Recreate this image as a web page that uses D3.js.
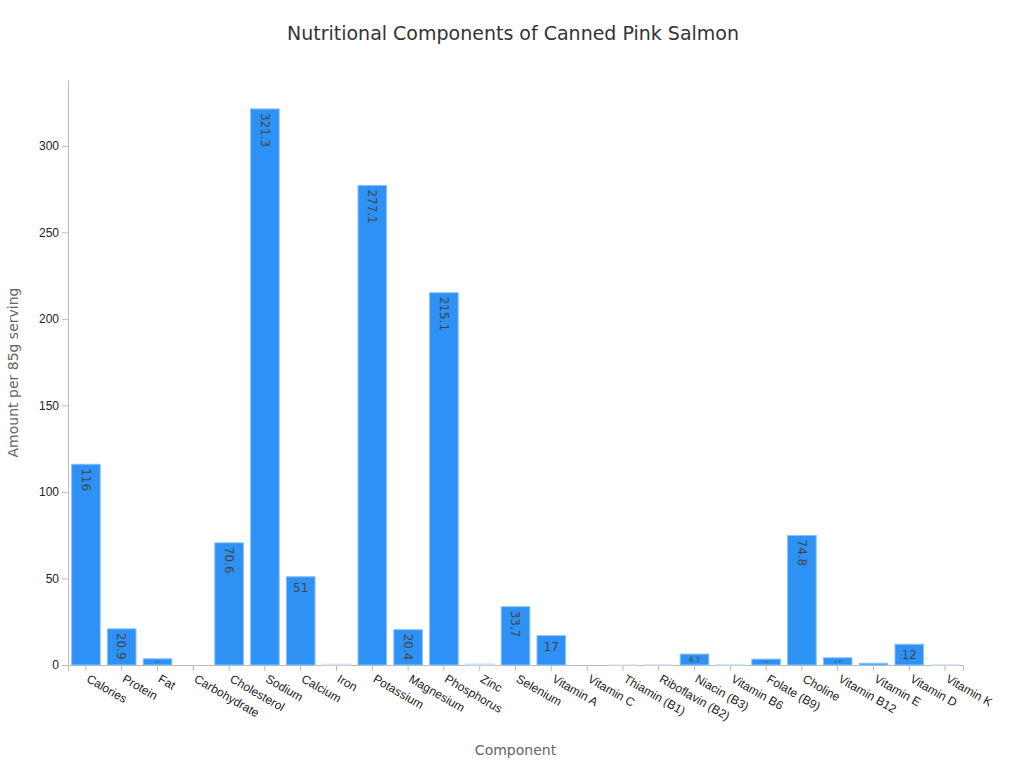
<!DOCTYPE html>
<html><head><meta charset="utf-8">
<script src="https://cdn.jsdelivr.net/npm/d3@7"></script>
<style>
body{margin:0;background:#fff;font-family:"DejaVu Sans",sans-serif}
.axis text{font-size:12px;fill:#222}
.axis path,.axis line{stroke:#bbb}
</style></head><body><div id="plot"></div>
<script>
const components = ["Calories","Protein","Fat","Carbohydrate","Cholesterol","Sodium","Calcium","Iron","Potassium","Magnesium","Phosphorus","Zinc","Selenium","Vitamin A","Vitamin C","Thiamin (B1)","Riboflavin (B2)","Niacin (B3)","Vitamin B6","Folate (B9)","Choline","Vitamin B12","Vitamin E","Vitamin D","Vitamin K"]
const amounts = [116,20.9,3.6,0,70.6,321.3,51,0.5,277.1,20.4,215.1,0.6,33.7,17,0,0.02,0.1,6.3,0.2,3.4,74.8,4.2,1.0,12,0.1]
const yTicks = [0,50,100,150,200,250,300]

const w = 1024, h = 768,
    margin = {top: 80, right: 61, bottom: 103, left: 68}

const svg = d3.select("#plot").append("svg").attr("width", w).attr("height", h)

const x = d3.scaleBand().domain(components)
    .range([margin.left, w - margin.right]).paddingInner(0.2).paddingOuter(0.1)
const y = d3.scaleLinear().domain([0, 338]).range([h - margin.bottom, margin.top])

svg.append("text").attr("x", w/2 + 1).attr("y", 40).attr("text-anchor", "middle")
  .style("font-size", "19px").style("fill", "#333").text("Nutritional Components of Canned Pink Salmon")

svg.append("g").attr("class", "axis")
  .attr("transform", `translate(0,${h - margin.bottom})`)
  .call(d3.axisBottom(x).tickSizeOuter(0).tickSize(6))
  .selectAll("text")
    .attr("transform", "rotate(30)").attr("text-anchor", "start")
    .attr("x", 8).attr("y", 10).attr("dy", "0.35em")

svg.append("g").attr("class", "axis")
  .attr("transform", `translate(${margin.left},0)`)
  .call(d3.axisLeft(y).tickValues(yTicks).tickSizeOuter(0))

svg.append("text").attr("x", x.range()[0] + (x.range()[1]-x.range()[0])/2).attr("y", 755)
  .attr("text-anchor", "middle").style("font-size", "14px").style("fill", "#666").text("Component")
svg.append("text").attr("transform", "rotate(-90)").attr("x", -(margin.top + (h - margin.bottom - margin.top)/2)).attr("y", 18)
  .attr("text-anchor", "middle").style("font-size", "14px").style("fill", "#666").text("Amount per 85g serving")

const data = components.map((c, i) => ({c, v: amounts[i]}))

svg.append("g").selectAll("rect").data(data).join("rect")
  .attr("x", d => x(d.c)).attr("width", x.bandwidth())
  .attr("y", d => y(d.v)).attr("height", d => y(0) - y(d.v))
  .attr("fill", "#2e91f5").attr("stroke", d => d.v < 1 ? "#d6e6f7" : "#8cc3f7").attr("stroke-width", 1)

// value labels inside bars
const lab = svg.append("g").style("fill", "#444")
data.forEach(d => {
  if (d.v < 2) return
  const txt = String(d.v), bh = y(0) - y(d.v), cx = x(d.c) + x.bandwidth()/2
  if (txt.length <= 2 && bh > 16) {
    lab.append("text").attr("x", cx).attr("y", y(d.v) + 15).attr("text-anchor", "middle")
      .style("font-size", "12px").text(txt)
  } else if (bh > 30) {
    lab.append("text").attr("transform", `translate(${cx},${y(d.v) + 4}) rotate(90)`)
      .attr("dy", "0.35em").style("font-size", "12px").text(txt)
  } else {
    const fs = Math.min(7, Math.max(3, bh - 3))
    lab.append("text").attr("x", cx).attr("y", y(d.v) + bh/2).attr("dy", "0.35em")
      .attr("text-anchor", "middle").style("font-size", fs + "px").text(txt)
  }
})
</script></body></html>
